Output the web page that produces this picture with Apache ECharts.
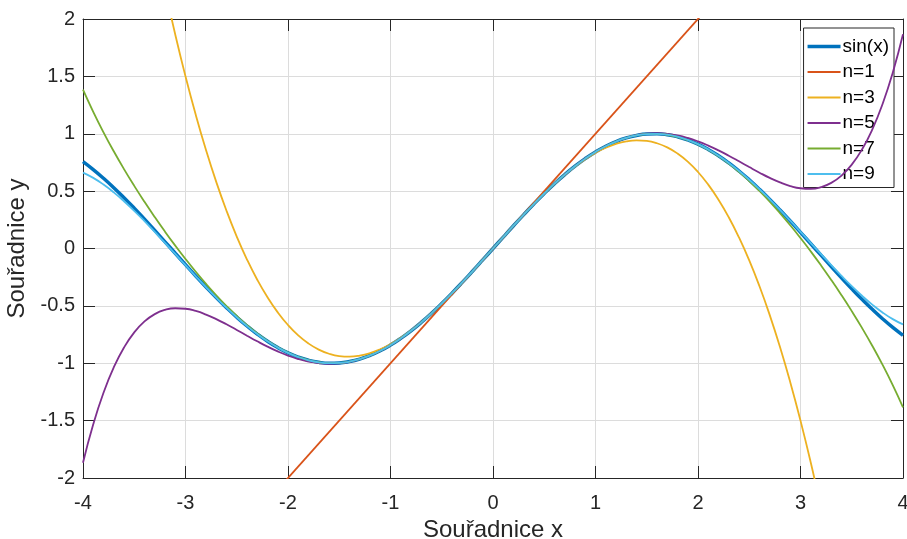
<!DOCTYPE html>
<html>
<head>
<meta charset="utf-8">
<script src="https://cdn.jsdelivr.net/npm/echarts@6/dist/echarts.min.js"></script>
<style>
  html, body { margin: 0; padding: 0; background: #fff; }
  #chart { width: 907px; height: 539px; }
</style>
</head>
<body>
<div id="chart"></div>
<script>
var xs = [-4, -3.9, -3.8, -3.7, -3.6, -3.5, -3.4, -3.3, -3.2, -3.1, -3, -2.9, -2.8, -2.7, -2.6, -2.5, -2.4, -2.3, -2.2, -2.1,
    -2, -1.9, -1.8, -1.7, -1.6, -1.5, -1.4, -1.3, -1.2, -1.1, -1, -0.9, -0.8, -0.7, -0.6, -0.5, -0.4, -0.3, -0.2, -0.1,
    0, 0.1, 0.2, 0.3, 0.4, 0.5, 0.6, 0.7, 0.8, 0.9, 1, 1.1, 1.2, 1.3, 1.4, 1.5, 1.6, 1.7, 1.8, 1.9,
    2, 2.1, 2.2, 2.3, 2.4, 2.5, 2.6, 2.7, 2.8, 2.9, 3, 3.1, 3.2, 3.3, 3.4, 3.5, 3.6, 3.7, 3.8, 3.9, 4];

var sinY = [0.7568, 0.6878, 0.6119, 0.5298, 0.4425, 0.3508, 0.2555, 0.1577, 0.0584, -0.0416, -0.1411, -0.2392, -0.3350, -0.4274, -0.5155, -0.5985, -0.6755, -0.7457, -0.8085, -0.8632,
    -0.9093, -0.9463, -0.9738, -0.9917, -0.9996, -0.9975, -0.9854, -0.9636, -0.9320, -0.8912, -0.8415, -0.7833, -0.7174, -0.6442, -0.5646, -0.4794, -0.3894, -0.2955, -0.1987, -0.0998,
    0, 0.0998, 0.1987, 0.2955, 0.3894, 0.4794, 0.5646, 0.6442, 0.7174, 0.7833, 0.8415, 0.8912, 0.9320, 0.9636, 0.9854, 0.9975, 0.9996, 0.9917, 0.9738, 0.9463,
    0.9093, 0.8632, 0.8085, 0.7457, 0.6755, 0.5985, 0.5155, 0.4274, 0.3350, 0.2392, 0.1411, 0.0416, -0.0584, -0.1577, -0.2555, -0.3508, -0.4425, -0.5298, -0.6119, -0.6878, -0.7568];

var n1X = [-4, 4];
var n1Y = [-4, 4];

var n3Y = [6.6667, 5.9865, 5.3453, 4.7422, 4.176, 3.6458, 3.1507, 2.6895, 2.2613, 1.8652, 1.5, 1.1648, 0.8587, 0.5805, 0.3293, 0.1042, -0.096, -0.2722, -0.4253, -0.5565,
    -0.6667, -0.7568, -0.828, -0.8812, -0.9173, -0.9375, -0.9427, -0.9338, -0.912, -0.8782, -0.8333, -0.7785, -0.7147, -0.6428, -0.564, -0.4792, -0.3893, -0.2955, -0.1987, -0.0998,
    0, 0.0998, 0.1987, 0.2955, 0.3893, 0.4792, 0.564, 0.6428, 0.7147, 0.7785, 0.8333, 0.8782, 0.912, 0.9338, 0.9427, 0.9375, 0.9173, 0.8812, 0.828, 0.7568,
    0.6667, 0.5565, 0.4253, 0.2722, 0.096, -0.1042, -0.3293, -0.5805, -0.8587, -1.1648, -1.5, -1.8652, -2.2613, -2.6895, -3.1507, -3.6458, -4.176, -4.7422, -5.3453, -5.9865, -6.6667];

var n5Y = [-1.8667, -1.5322, -1.2576, -1.0365, -0.8629, -0.7310, -0.6356, -0.5718, -0.5349, -0.5206, -0.525, -0.5444, -0.5755, -0.6152, -0.6608, -0.7096, -0.7596, -0.8085, -0.8548, -0.8968,
    -0.9333, -0.9632, -0.9855, -0.9995, -1.0047, -1.0008, -0.9875, -0.9648, -0.9327, -0.8916, -0.8417, -0.7834, -0.7174, -0.6442, -0.5646, -0.4794, -0.3894, -0.2955, -0.1987, -0.0998,
    0, 0.0998, 0.1987, 0.2955, 0.3894, 0.4794, 0.5646, 0.6442, 0.7174, 0.7834, 0.8417, 0.8916, 0.9327, 0.9648, 0.9875, 1.0008, 1.0047, 0.9995, 0.9855, 0.9632,
    0.9333, 0.8968, 0.8548, 0.8085, 0.7596, 0.7096, 0.6608, 0.6152, 0.5755, 0.5444, 0.525, 0.5206, 0.5349, 0.5718, 0.6356, 0.7310, 0.8629, 1.0365, 1.2576, 1.5322, 1.8667];

var n7Y = [1.3841, 1.1907, 1.0126, 0.8471, 0.6919, 0.5456, 0.4065, 0.2738, 0.1468, 0.0253, -0.0911, -0.2022, -0.3078, -0.4077, -0.5014, -0.5885, -0.6686, -0.7410, -0.8053, -0.8611,
    -0.9079, -0.9454, -0.9734, -0.9913, -0.9994, -0.9974, -0.9854, -0.9635, -0.9320, -0.8912, -0.8415, -0.7833, -0.7174, -0.6442, -0.5646, -0.4794, -0.3894, -0.2955, -0.1987, -0.0998,
    0, 0.0998, 0.1987, 0.2955, 0.3894, 0.4794, 0.5646, 0.6442, 0.7174, 0.7833, 0.8415, 0.8912, 0.9320, 0.9635, 0.9854, 0.9974, 0.9994, 0.9913, 0.9734, 0.9454,
    0.9079, 0.8611, 0.8053, 0.7410, 0.6686, 0.5885, 0.5014, 0.4077, 0.3078, 0.2022, 0.0911, -0.0253, -0.1468, -0.2738, -0.4065, -0.5456, -0.6919, -0.8471, -1.0126, -1.1907, -1.3841];

var n9Y = [0.6617, 0.6155, 0.5573, 0.4889, 0.4120, 0.3284, 0.2392, 0.1459, 0.0498, -0.0476, -0.1453, -0.2421, -0.3370, -0.4287, -0.5164, -0.5990, -0.6759, -0.7459, -0.8086, -0.8633,
    -0.9093, -0.9463, -0.9739, -0.9917, -0.9996, -0.9975, -0.9855, -0.9636, -0.9320, -0.8912, -0.8415, -0.7833, -0.7174, -0.6442, -0.5646, -0.4794, -0.3894, -0.2955, -0.1987, -0.0998,
    0, 0.0998, 0.1987, 0.2955, 0.3894, 0.4794, 0.5646, 0.6442, 0.7174, 0.7833, 0.8415, 0.8912, 0.9320, 0.9636, 0.9855, 0.9975, 0.9996, 0.9917, 0.9739, 0.9463,
    0.9093, 0.8633, 0.8086, 0.7459, 0.6759, 0.5990, 0.5164, 0.4287, 0.3370, 0.2421, 0.1453, 0.0476, -0.0498, -0.1459, -0.2392, -0.3284, -0.4120, -0.4889, -0.5573, -0.6155, -0.6617];

var seriesNames = ['sin(x)', 'n=1', 'n=3', 'n=5', 'n=7', 'n=9'];
var seriesColors = ['#0072BD', '#D95319', '#EDB120', '#7E2F8E', '#77AC30', '#4DBEEE'];
var seriesX = [xs, n1X, xs, xs, xs, xs];
var seriesY = [sinY, n1Y, n3Y, n5Y, n7Y, n9Y];

var fontFamily = 'Liberation Sans, Arial, sans-serif';
var axisColor = '#262626';

function pairs(xv, yv) {
    return xv.map(function (x, i) { return [x, yv[i]]; });
}

var chart = echarts.init(document.getElementById('chart'));

// second axes on top/right only close the box
var boxAxis = {
    axisLine: { show: true, onZero: false, lineStyle: { color: axisColor, width: 1 } },
    axisTick: { show: true, inside: true, length: 12, lineStyle: { color: axisColor } },
    axisLabel: { show: false },
    splitLine: { show: false }
};

var option = {
    backgroundColor: '#fff',
    animation: false,
    grid: { left: 83, right: 4, top: 19, bottom: 61, containLabel: false, outerBoundsMode: 'none' },
    legend: {
        orient: 'vertical',
        right: 13,
        top: 28,
        data: seriesNames.map(function (name, i) {
            return { name: name, icon: i === 0 ? 'path://M0,0H33V3.5H0Z' : 'path://M0,0H33V1.8H0Z' };
        }),
        itemWidth: 33,
        itemHeight: 14,
        itemGap: 6.5,
        padding: [9, 5, 4, 4],
        backgroundColor: '#fff',
        borderColor: axisColor,
        borderWidth: 1,
        itemStyle: { borderWidth: 0 },
        textStyle: { fontFamily: fontFamily, fontSize: 19, color: '#000', padding: [0, 0, 0, -3] }
    },
    xAxis: [
        {
            type: 'value',
            min: -4, max: 4, interval: 1,
            position: 'bottom',
            name: 'Souřadnice x',
            nameLocation: 'middle',
            nameGap: 40,
            nameTextStyle: { fontFamily: fontFamily, fontSize: 24, color: axisColor },
            axisLine: { show: true, onZero: false, lineStyle: { color: axisColor, width: 1 } },
            axisTick: { show: true, inside: true, length: 12, lineStyle: { color: axisColor } },
            axisLabel: { fontFamily: fontFamily, fontSize: 20, color: axisColor, margin: 15 },
            splitLine: { show: true, lineStyle: { color: '#dcdcdc', width: 1 } }
        },
        Object.assign({ type: 'value', min: -4, max: 4, interval: 1, position: 'top' }, boxAxis)
    ],
    yAxis: [
        {
            type: 'value',
            min: -2, max: 2, interval: 0.5,
            position: 'left',
            name: 'Souřadnice y',
            nameLocation: 'middle',
            nameGap: 47,
            nameTextStyle: { fontFamily: fontFamily, fontSize: 24, color: axisColor },
            axisLine: { show: true, onZero: false, lineStyle: { color: axisColor, width: 1 } },
            axisTick: { show: true, inside: true, length: 12, lineStyle: { color: axisColor } },
            axisLabel: { fontFamily: fontFamily, fontSize: 20, color: axisColor, margin: 8 },
            splitLine: { show: true, lineStyle: { color: '#dcdcdc', width: 1 } }
        },
        Object.assign({ type: 'value', min: -2, max: 2, interval: 0.5, position: 'right' }, boxAxis)
    ],
    series: seriesNames.map(function (name, i) {
        return {
            name: name,
            type: 'line',
            data: pairs(seriesX[i], seriesY[i]),
            smooth: true,
            symbol: 'none',
            clip: true,
            color: seriesColors[i],
            lineStyle: { color: seriesColors[i], width: i === 0 ? 3.5 : 1.8 },
            z: 2 + i
        };
    })
};

chart.setOption(option);
window.onresize = chart.resize;
</script>
</body>
</html>
